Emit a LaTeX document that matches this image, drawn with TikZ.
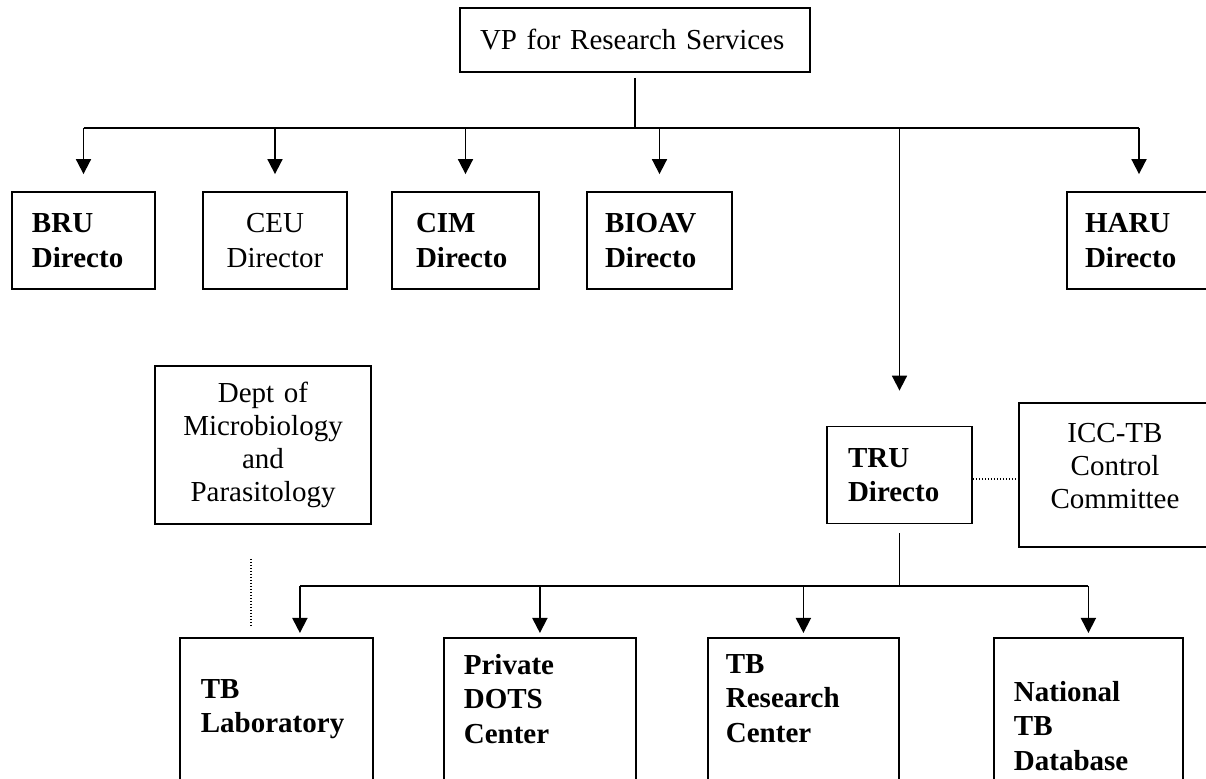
\documentclass[tikz,border=0pt]{standalone}
\usepackage{fontspec}
\setmainfont{Liberation Serif}
\usetikzlibrary{arrows.meta}

\begin{document}
\begin{tikzpicture}[x=0.5pt,y=-0.5pt,>={Triangle[width=7.5pt,length=7.5pt]},
  box/.style={draw,line width=0.9pt,inner xsep=10pt,font=\fontsize{14.5}{16.5}\selectfont},
  unit/.style={box,align=left,minimum height=48.5pt,font=\fontsize{14.5}{17.25}\selectfont\bfseries},
  plainunit/.style={box,align=center,minimum height=48.5pt,font=\fontsize{14.5}{17.25}\selectfont},
  office/.style={box,align=center},
  subunit/.style={box,anchor=north west,align=left,text depth=80pt,font=\fontsize{14.5}{17.25}\selectfont\bfseries},
  conn/.style={line width=0.9pt},
  link/.style={line width=0.7pt,dash pattern=on 0.5pt off 1pt}]
%Chart area
    \useasboundingbox (0,0) rectangle (1206,779);
    \clip (0,0) rectangle (1206,779);

    \node[box,align=left,text width=155pt,minimum height=32pt] (vp) at (635,40) {VP for Research Services};

    \node[unit,text width=51.5pt] (bru) at (83.5,240.5) {BRU\\Directo};
    \node[plainunit,inner xsep=8pt,text width=56pt] (ceu) at (275,240.5) {CEU\\Director};
    \node[unit,inner xsep=12pt,text width=49.5pt] (cim) at (465.5,240.5) {CIM\\Directo};
    \node[unit,inner xsep=9pt,text width=54.5pt] (bioav) at (659.5,240.5) {BIOAV\\Directo};
    \node[unit,inner xsep=9pt,text width=54pt] (haru) at (1139,240.5) {HARU\\Directo};

    \node[office,text width=88pt,minimum height=79pt] (dept) at (263,445) {Dept of\\Microbiology\\and\\Parasitology};
    \node[unit,inner xsep=10.5pt,text width=51.5pt] (tru) at (899.5,475) {TRU\\Directo};
    \node[office,text width=76pt,minimum height=72pt,text depth=42.5pt] (icc) at (1115,475) {ICC-TB\\Control\\Committee};

    \node[subunit,inner xsep=10.5pt,inner ysep=20.7pt,text width=75.5pt] (tblab) at (179,637) {TB\\Laboratory};
    \node[subunit,inner ysep=8.2pt,text width=76pt] (dots) at (443,637) {Private\\DOTS\\Center};
    \node[subunit,inner xsep=9pt,inner ysep=8.2pt,text width=77.5pt] (tbrc) at (707,637) {TB\\Research\\Center};
    \node[subunit,inner ysep=21.7pt,text width=74.5pt] (tbdb) at (993,637) {National\\TB\\Database};

    \coordinate (topbus) at (0,128);
    \coordinate (subbus) at (0,586);
    \coordinate (labin) at ([xshift=11.75pt]tblab.north);

    \draw[conn,shorten <=2.5pt] (vp.south) -- (vp.south |- topbus);
    \draw[conn] (bru.north |- topbus) -- (haru.north |- topbus);
    \foreach \n in {bru,ceu,cim,bioav,haru}
      \draw[conn,->,shorten >=8.5pt] (\n.north |- topbus) -- (\n.north);
    \draw[conn,->,shorten >=17.5pt] (tru.north |- topbus) -- (tru.north);

    \draw[conn,shorten <=4.5pt] (tru.south) -- (tru.south |- subbus);
    \draw[conn] (labin |- subbus) -- (tbdb.north |- subbus);
    \draw[conn,->,shorten >=2pt] (labin |- subbus) -- (labin);
    \foreach \n in {dots,tbrc,tbdb}
      \draw[conn,->,shorten >=2pt] (\n.north |- subbus) -- (\n.north);

    \draw[link,shorten <=17pt,shorten >=5pt] ([xshift=-6pt]dept.south) -- ([xshift=-6pt]dept.south |- tblab.north);
    \draw[link] ([yshift=-2pt]tru.east) -- ([yshift=-2pt]icc.west);
\end{tikzpicture}
\end{document}
